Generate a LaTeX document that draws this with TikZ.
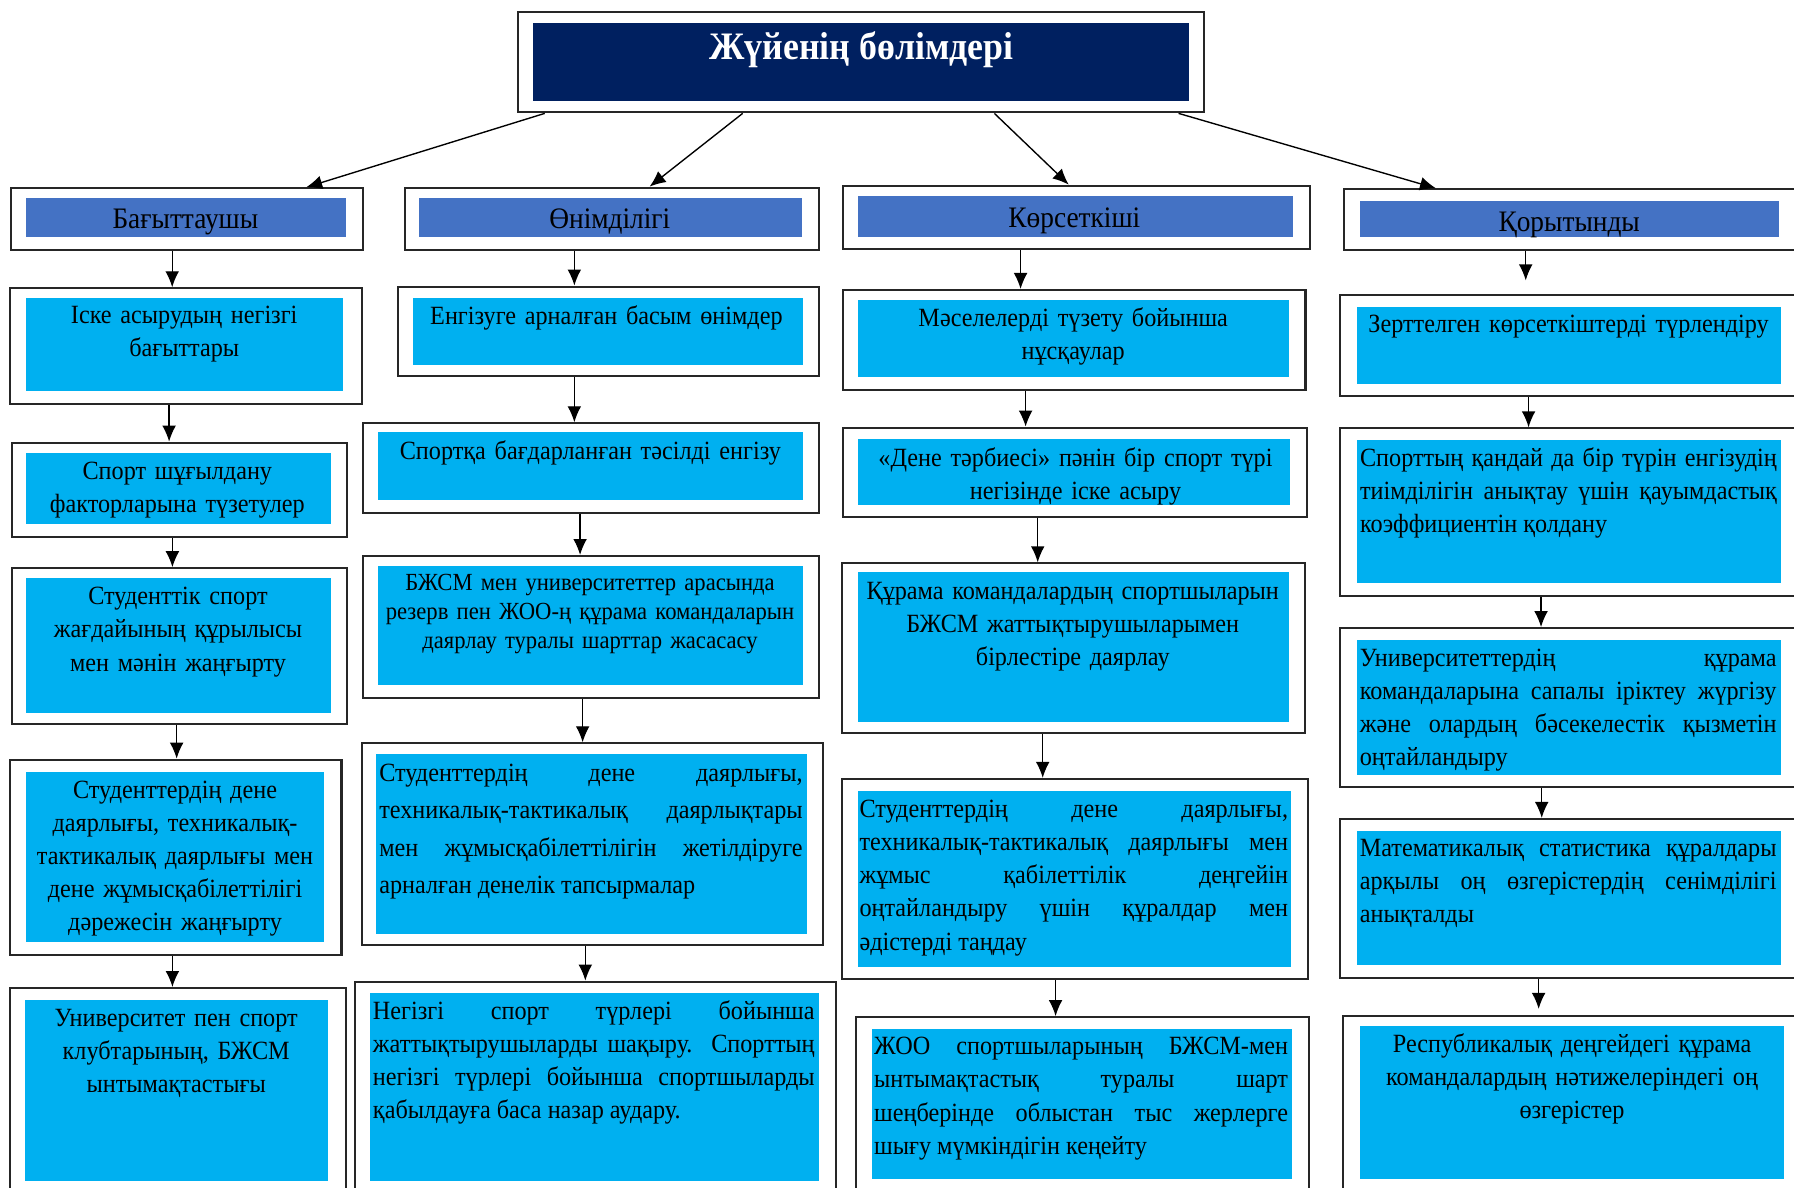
\documentclass[tikz,border=0pt]{standalone}
\usepackage{fontspec}
\setmainfont{Liberation Serif}[FakeStretch=0.92]
\usetikzlibrary{arrows.meta,fit}
\definecolor{navytitle}{HTML}{002060}
\definecolor{headblue}{HTML}{4472C4}
\definecolor{cellcyan}{HTML}{00B0F0}
\definecolor{framegray}{HTML}{262626}
\hyphenpenalty=10000
\exhyphenpenalty=10000
\tikzset{
  boxframe/.style={draw=framegray, line width=1.8pt, inner sep=0pt, fill=white},
  headfill/.style={fill=headblue},
  cellfill/.style={fill=cellcyan},
  titletxt/.style={anchor=base, inner sep=0pt, text=white, font=\bfseries\fontsize{34}{40}\selectfont},
  headtxt/.style={anchor=base, inner sep=0pt, font=\fontsize{26}{30}\selectfont},
  txt/.style={anchor=base, inner sep=0pt, font=\fontsize{23}{29}\selectfont},
  arr/.style={-{Latex[length=14pt,width=12pt]}, line width=1.2pt},
}
\begin{document}
\begin{tikzpicture}[x=1pt,y=-1pt]
            \useasboundingbox (0,0) rectangle (1568,1038);

            %%title
            \node[boxframe, fit={(452.7,10.2) (1052.6,98.2)}] (title) {};
            \fill[navytitle] (465.8,20.4) rectangle (1038.8,88);
            \node[titletxt] (ttl) at (753,52.4) {Жүйенің бөлімдері};

            %%headers
            \node[boxframe, fit={(10,164.6) (317,218.5)}] (h1) {};
            \fill[headfill] (23,172.8) rectangle (302,207.4);
            \node[headtxt] (l1) at (162,200) {Бағыттаушы};
            \node[boxframe, fit={(354,164) (715.5,218.5)}] (h2) {};
            \fill[headfill] (366.3,172.8) rectangle (701,207.4);
            \node[headtxt] (l2) at (533,200) {Өнімділігі};
            \node[boxframe, fit={(736.6,162.3) (1145,217.6)}] (h3) {};
            \fill[headfill] (750,171.3) rectangle (1130,207.4);
            \node[headtxt] (l3) at (939,199) {Көрсеткіші};
            \node[boxframe, fit={(1175,165.5) (1580,218.5)}] (h4) {};
            \fill[headfill] (1188.7,175.7) rectangle (1554.7,207.4);
            \node[headtxt] (l4) at (1371.5,202) {Қорытынды};

            \draw[arr] ([xshift=24.3]title.south west) to ([xshift=258.5]h1.north west);
            \draw[arr] ([xshift=197.3]title.south west) to ([xshift=214.7]h2.north west);
            \draw[arr] ([xshift=417.3]title.south west) to ([xshift=198.4]h3.north west);
            \draw[arr] ([xshift=578.3]title.south west) to ([xshift=81]h4.north west);

            %%column 1
            \node[boxframe, fit={(9,252) (316,353)}] (b1a) {};
            \fill[cellfill] (22.6,260.7) rectangle (300,342);
            \node[txt, text width=270, align=center] (t1a) at (161,282.5) {Іске асырудың негізгі\\ бағыттары};
            \node[boxframe, fit={(10.4,386.9) (303,469.6)}] (b1b) {};
            \fill[cellfill] (22.7,396.2) rectangle (289,458);
            \node[txt, text width=260, align=center] (t1b) at (155,419) {Спорт шұғылдану\\ факторларына түзетулер};
            \node[boxframe, fit={(10.4,496.7) (303,632.8)}] (b1c) {};
            \fill[cellfill] (22.7,505.5) rectangle (289,622.9);
            \node[txt, text width=260, align=center] (t1c) at (155.6,528.5) {Студенттік спорт\\ жағдайының құрылысы\\ мен мәнін жаңғырту};
            \node[boxframe, fit={(8.5,664) (298.5,835)}] (b1d) {};
            \fill[cellfill] (22.7,674.5) rectangle (283,823);
            \node[txt, text width=256, align=center] (t1d) at (153,697.5) {Студенттердің дене\\ даярлығы, техникалық-\\ тактикалық даярлығы мен\\ дене жұмысқабілеттілігі\\ дәрежесін жаңғырту};
            \node[boxframe, fit={(8.5,863.6) (302,1050)}] (b1e) {};
            \fill[cellfill] (21.8,874) rectangle (286.6,1032);
            \node[txt, text width=260, align=center] (t1e) at (154,897) {Университет пен спорт\\ клубтарының, БЖСМ\\ ынтымақтастығы};

            \draw[arr] ([xshift=-13]h1.south) to ([xshift=-13]h1.south |- b1a.north);
            \draw[arr] ([xshift=-14.7]b1a.south) to ([xshift=-14.7]b1a.south |- b1b.north);
            \draw[arr] ([xshift=-6]b1b.south) to ([xshift=-6]b1b.south |- b1c.north);
            \draw[arr] ([xshift=-2.3]b1c.south) to ([xshift=-2.3]b1c.south |- b1d.north);
            \draw[arr] ([xshift=-2.8]b1d.south) to ([xshift=-2.8]b1d.south |- b1e.north);

            %%column 2
            \node[boxframe, fit={(348,250.5) (715.5,329)}] (b2a) {};
            \fill[cellfill] (360.7,260.7) rectangle (701.5,319);
            \node[txt, text width=335, align=center] (t2a) at (530,284) {Енгізуге арналған басым өнімдер};
            \node[boxframe, fit={(317,370) (715.5,448.6)}] (b2b) {};
            \fill[cellfill] (330,378) rectangle (701.5,437);
            \node[txt, text width=365, align=center] (t2b) at (516,402) {Спортқа бағдарланған тәсілді енгізу};
            \node[boxframe, fit={(317,486) (715.5,610)}] (b2c) {};
            \fill[cellfill] (330,494.7) rectangle (701.5,598.7);
            \node[txt, text width=368, align=center, font=\fontsize{21.5}{25.5}\selectfont] (t2c) at (515.7,516) {БЖСМ мен университеттер арасында\\ резерв пен ЖОО-ң құрама командаларын\\ даярлау туралы шарттар жасасасу};
            \node[boxframe, fit={(316.4,649.7) (719,826)}] (b2d) {};
            \fill[cellfill] (328.8,659) rectangle (705,816);
            \node[txt, text width=370, align=justify, font=\fontsize{23}{32.8}\selectfont] (t2d) at (516.5,682.7) {Студенттердің дене даярлығы, \linebreak техникалық-тактикалық даярлықтары \linebreak мен жұмысқабілеттілігін жетілдіруге \linebreak арналған денелік тапсырмалар};
            \node[boxframe, fit={(310,858) (731,1050)}] (b2e) {};
            \fill[cellfill] (323.5,868) rectangle (715.4,1032);
            \node[txt, text width=386, align=justify] (t2e) at (519,891) {Негізгі спорт түрлері бойынша \linebreak жаттықтырушыларды шақыру. Спорттың \linebreak негізгі түрлері бойынша спортшыларды \linebreak қабылдауға баса назар аудару.};

            \draw[arr] ([xshift=-32.75]h2.south) to ([xshift=-32.75]h2.south |- b2a.north);
            \draw[arr] ([xshift=-29.75]b2a.south) to ([xshift=-29.75]b2a.south |- b2b.north);
            \draw[arr] ([xshift=-9.25]b2b.south) to ([xshift=-9.25]b2b.south |- b2c.north);
            \draw[arr] ([xshift=-7]b2c.south) to ([xshift=-7]b2c.south |- b2d.north);
            \draw[arr] ([xshift=-6.1]b2d.south) to ([xshift=-6.1]b2d.south |- b2e.north);

            %%column 3
            \node[boxframe, fit={(736.8,253.5) (1141,340.9)}] (b3a) {};
            \fill[cellfill] (750,262.2) rectangle (1126.6,329.8);
            \node[txt, text width=370, align=center] (t3a) at (938,285) {Мәселелерді түзету бойынша\\ нұсқаулар};
            \node[boxframe, fit={(736.8,373.8) (1142.6,451.6)}] (b3b) {};
            \fill[cellfill] (750,384) rectangle (1127.5,441.4);
            \node[txt, text width=370, align=center] (t3b) at (940,407.6) {«Дене тәрбиесі» пәнін бір спорт түрі\\ негізінде іске асыру};
            \node[boxframe, fit={(736,492.4) (1140.7,640.3)}] (b3c) {};
            \fill[cellfill] (749.6,500.2) rectangle (1126.8,630.7);
            \node[txt, text width=370, align=center] (t3c) at (937.6,524) {Құрама командалардың спортшыларын\\ БЖСМ жаттықтырушыларымен\\ бірлестіре даярлау};
            \node[boxframe, fit={(736,680.8) (1143,856)}] (b3d) {};
            \fill[cellfill] (749.6,691) rectangle (1128.3,845);
            \node[txt, text width=374.5, align=justify] (t3d) at (938.5,714.4) {Студенттердің дене даярлығы, \linebreak техникалық-тактикалық даярлығы мен \linebreak жұмыс қабілеттілік деңгейін \linebreak оңтайландыру үшін құралдар мен \linebreak әдістерді таңдау};
            \node[boxframe, fit={(748,889) (1144.4,1050)}] (b3e) {};
            \fill[cellfill] (762,899.6) rectangle (1129.3,1030.7);
            \node[txt, text width=361.7, align=justify] (t3e) at (944.9,921.8) {ЖОО спортшыларының БЖСМ-мен \linebreak ынтымақтастық туралы шарт \linebreak шеңберінде облыстан тыс жерлерге \linebreak шығу мүмкіндігін кеңейту};

            \draw[arr] ([xshift=-48.8]h3.south) to ([xshift=-48.8]h3.south |- b3a.north);
            \draw[arr] ([xshift=-42.5]b3a.south) to ([xshift=-42.5]b3a.south |- b3b.north);
            \draw[arr] ([xshift=-32.7]b3b.south) to ([xshift=-32.7]b3b.south |- b3c.north);
            \draw[arr] ([xshift=-27]b3c.south) to ([xshift=-27]b3c.south |- b3d.north);
            \draw[arr] ([xshift=-16.9]b3d.south) to ([xshift=-16.9]b3d.south |- b3e.north);

            %%column 4
            \node[boxframe, fit={(1171.3,258) (1580,346)}] (b4a) {};
            \fill[cellfill] (1186,268) rectangle (1556.8,335.6);
            \node[txt, text width=366, align=center] (t4a) at (1371,291) {Зерттелген көрсеткіштерді түрлендіру};
            \node[boxframe, fit={(1171.3,374.4) (1580,521)}] (b4b) {};
            \fill[cellfill] (1186,384.6) rectangle (1556.6,509.3);
            \node[txt, text width=364.3, align=justify] (t4b) at (1370.85,407.6) {Спорттың қандай да бір түрін енгізудің \linebreak тиімділігін анықтау үшін қауымдастық \linebreak коэффициентін қолдану};
            \node[boxframe, fit={(1171.3,549) (1580,687.5)}] (b4c) {};
            \fill[cellfill] (1185.8,559.4) rectangle (1556.6,677.4);
            \node[txt, text width=364.2, align=justify] (t4c) at (1370.6,582.4) {Университеттердің құрама \linebreak командаларына сапалы іріктеу жүргізу \linebreak және олардың бәсекелестік қызметін \linebreak оңтайландыру};
            \node[boxframe, fit={(1171.3,715.8) (1580,855)}] (b4d) {};
            \fill[cellfill] (1185.8,726) rectangle (1556.6,843.4);
            \node[txt, text width=364.2, align=justify] (t4d) at (1370.6,748.4) {Математикалық статистика құралдары \linebreak арқылы оң өзгерістердің сенімділігі \linebreak анықталды};
            \node[boxframe, fit={(1174,887.7) (1580,1050)}] (b4e) {};
            \fill[cellfill] (1188.5,896.7) rectangle (1559,1030.7);
            \node[txt, text width=366, align=center] (t4e) at (1374,919.5) {Республикалық деңгейдегі құрама\\ командалардың нәтижелеріндегі оң\\ өзгерістер};

            \draw[arr, shorten >=12] ([xshift=-44]h4.south) to ([xshift=-44]h4.south |- b4a.north);
            \draw[arr] ([xshift=-39.65]b4a.south) to ([xshift=-39.65]b4a.south |- b4b.north);
            \draw[arr] ([xshift=-28.75]b4b.south) to ([xshift=-28.75]b4b.south |- b4c.north);
            \draw[arr] ([xshift=-28.15]b4c.south) to ([xshift=-28.15]b4c.south |- b4d.north);
            \draw[arr, shorten >=5] ([xshift=-30.85]b4d.south) to ([xshift=-30.85]b4d.south |- b4e.north);
\end{tikzpicture}
\end{document}
